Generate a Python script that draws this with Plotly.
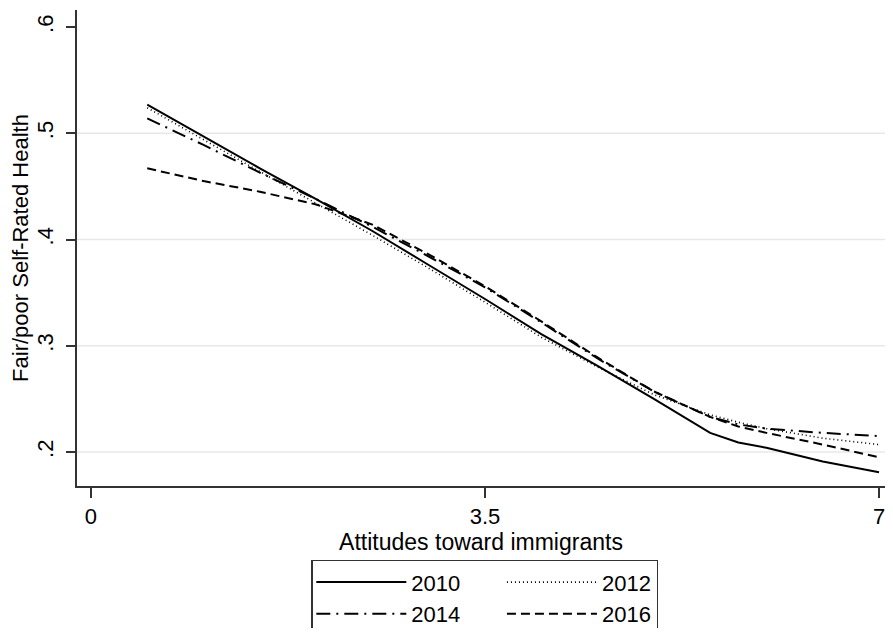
import plotly.graph_objects as go

# ---- data ----
x_vals = [0.5, 1.0, 1.5, 2.0, 2.5, 3.0, 3.5, 4.0, 4.5, 5.0, 5.5, 5.75, 6.0, 6.5, 7.0]
y_2010 = [0.527, 0.497, 0.467, 0.438, 0.408, 0.376, 0.344, 0.311, 0.281, 0.250, 0.218, 0.209, 0.204, 0.191, 0.181]
y_2012 = [0.524, 0.494, 0.464, 0.434, 0.404, 0.373, 0.341, 0.308, 0.280, 0.254, 0.235, 0.228, 0.222, 0.213, 0.207]
y_2014 = [0.514, 0.489, 0.463, 0.438, 0.412, 0.384, 0.355, 0.322, 0.288, 0.257, 0.233, 0.226, 0.222, 0.218, 0.215]
y_2016 = [0.467, 0.455, 0.445, 0.433, 0.414, 0.386, 0.356, 0.323, 0.289, 0.257, 0.233, 0.224, 0.218, 0.207, 0.195]

x_ticks = [0, 3.5, 7]
x_tick_labels = ["0", "3.5", "7"]
y_ticks = [0.2, 0.3, 0.4, 0.5, 0.6]
y_tick_labels = [".2", ".3", ".4", ".5", ".6"]
grid_y = [0.2, 0.3, 0.4, 0.5]

PAD = "\u00a0" * 6  # keeps the second legend column at the reference spacing

series = [
    ("2010", y_2010, "solid", 2.0, "a", PAD),
    ("2012", y_2012, "1px,3px", 1.6, "b", ""),
    ("2014", y_2014, "14px,6px,2px,6px", 2.0, "a", PAD),
    ("2016", y_2016, "9px,5px", 2.0, "b", ""),
]

FONT = "Liberation Sans, Arial, Helvetica, sans-serif"

fig = go.Figure()
for name, ys, dash, w, grp, pad in series:
    fig.add_trace(go.Scatter(
        x=x_vals, y=ys, mode="lines", name=name + pad, legendgroup=grp,
        line=dict(color="#000000", width=w, dash=dash),
    ))

for gy in grid_y:
    fig.add_shape(type="line", xref="paper", yref="y", x0=0, x1=1, y0=gy, y1=gy,
                  line=dict(color="#e8e8e8", width=1.5), layer="below")

# page body has an 8px default margin, so the figure is sized to fit the window
fig.update_layout(
    width=877, height=620,
    margin=dict(l=69, r=0, t=2, b=142, autoexpand=False),
    paper_bgcolor="white", plot_bgcolor="white",
    font=dict(family=FONT, size=22, color="#000000"),
    showlegend=True,
    legend=dict(
        orientation="h", traceorder="grouped",
        x=0.29, xanchor="left", y=-0.155, yanchor="top",
        bordercolor="#333333", borderwidth=1.5,
        font=dict(family=FONT, size=22),
        itemwidth=90,
    ),
    xaxis=dict(
        range=[-0.124, 7.053], tickvals=x_ticks, ticktext=x_tick_labels,
        showgrid=False, zeroline=False, showline=True, linecolor="#333333", linewidth=1.8,
        ticks="outside", ticklen=10, tickwidth=1.5, tickcolor="#333333",
        tickfont=dict(size=22), automargin=False, ticklabeloverflow="allow",
        title=dict(text="Attitudes toward immigrants", font=dict(size=23), standoff=0),
    ),
    yaxis=dict(
        range=[0.168, 0.616], tickvals=y_ticks, ticktext=y_tick_labels,
        showgrid=False, zeroline=False, showline=True, linecolor="#333333", linewidth=1.8,
        ticks="outside", ticklen=9, tickwidth=1.5, tickcolor="#333333",
        tickangle=-90, tickfont=dict(size=22), ticklabelstandoff=4, automargin=False,
        title=dict(text="Fair/poor Self-Rated Health", font=dict(size=22), standoff=2),
    ),
)

fig.write_html("out.html")
